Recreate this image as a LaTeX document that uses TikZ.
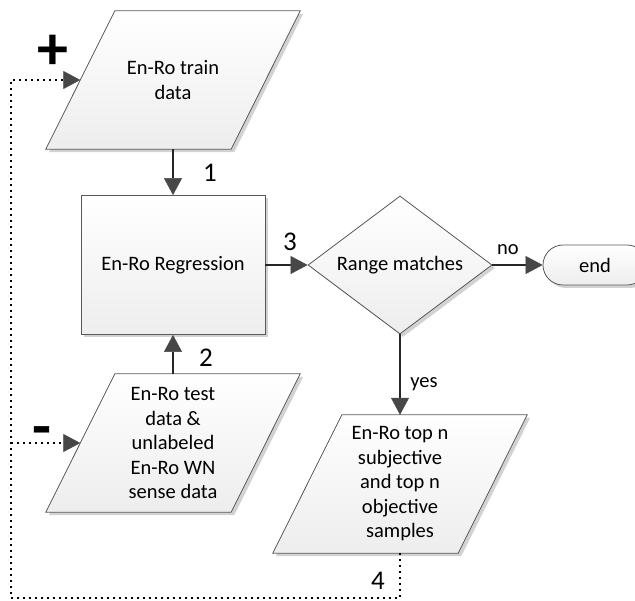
\documentclass[tikz,border=0pt]{standalone}
\usepackage{fontspec}
\setmainfont{Carlito}
\usetikzlibrary{arrows.meta,shapes.geometric,shapes.misc,shadows,backgrounds}
\newcommand\paraShape[1]{%
  \fill[gray!35] ([xshift=72pt,yshift=-3pt]#1.north west) -- ([xshift=3pt,yshift=-3pt]#1.north east)
    -- ([xshift=-66pt,yshift=-3pt]#1.south east) -- ([xshift=3pt,yshift=-3pt]#1.south west) -- cycle;
  \path[box] ([xshift=69pt]#1.north west) -- (#1.north east)
    -- ([xshift=-69pt]#1.south east) -- (#1.south west) -- cycle;}
\begin{document}
\begin{tikzpicture}[x=1pt,y=-1pt,
  box/.style={draw=black!65, line width=0.8pt, top color=white, bottom color=gray!14},
  shad/.style={drop shadow={shadow xshift=3pt,shadow yshift=-3pt,fill=gray!70}},
  txt/.style={font=\fontsize{20.5}{24.5}\selectfont, align=center, inner sep=0pt},
  num/.style={font=\fontsize{27}{30}\selectfont, inner sep=0pt},
  sign/.style={font=\bfseries\fontsize{62}{66}\selectfont, inner sep=0pt},
  parabox/.style={txt, minimum width=254pt, minimum height=138pt},
  flow/.style={draw=black!85, line width=2pt, -{Triangle[length=17pt,width=18pt,fill=black!72,color=black!72,line width=0.6pt]}},
  fb/.style={draw=black, line width=1.8pt, dash pattern=on 1.8pt off 4.2pt,
    -{Triangle[length=17pt,width=18pt,fill=black!72,color=black!72,line width=0.6pt]}}
]
\useasboundingbox (0,0) rectangle (635,601);

% parallelogram text holders
\node[parabox] (train) at (173,80) {En-Ro train\\data};
\node[parabox] (test) at (173,443) {En-Ro test\\data \&\\unlabeled\\En-Ro WN\\sense data};
\node[parabox] (samp) at (400,484) {En-Ro top n\\subjective\\and top n\\objective\\samples};
\begin{pgfonlayer}{background}
  \paraShape{train}
  \paraShape{test}
  \paraShape{samp}
\end{pgfonlayer}

\node[box, shad, txt, rectangle, minimum width=184pt, minimum height=139pt] (regr) at (173,265) {En-Ro Regression};
\node[box, shad, txt, diamond, aspect=1.33, minimum width=184pt, minimum height=138pt] (range) at (400,265) {Range matches};
\node[box, shad, txt, rounded rectangle, minimum width=104pt, minimum height=40pt] (end) at (595,265) {end};

% main flow
\draw[flow] (train.south) -- (regr.north);
\draw[flow] (test.north) -- (regr.south);
\draw[flow] (regr.east) -- (range.west);
\draw[flow] (range.east) -- (end.west);
\draw[flow] (range.south) -- (samp.north);

% labels
\node[num] (l1) at (210,173) {1};
\node[num] (l2) at (206,358) {2};
\node[num] (l3) at (290,242) {3};
\node[num] (l4) at (378,581) {4};
\node[txt] (lno) at (508,250) {no};
\node[txt] (lyes) at (424,384) {yes};
\node[sign] (lplus) at (53,52) {+};
\node[sign] (lminus) at (42,437) {-};

% feedback (dotted)
\coordinate (bl) at (11,598);
\coordinate (tl) at (11,80);
\coordinate (ml) at (11,443);
\coordinate (trainIn) at ([xshift=34.5pt]train.west);
\coordinate (testIn) at ([xshift=34.5pt]test.west);
\draw[fb] (samp.south) |- (bl) -- (tl) -- (trainIn);
\draw[fb] (ml) -- (testIn);
\end{tikzpicture}
\end{document}
